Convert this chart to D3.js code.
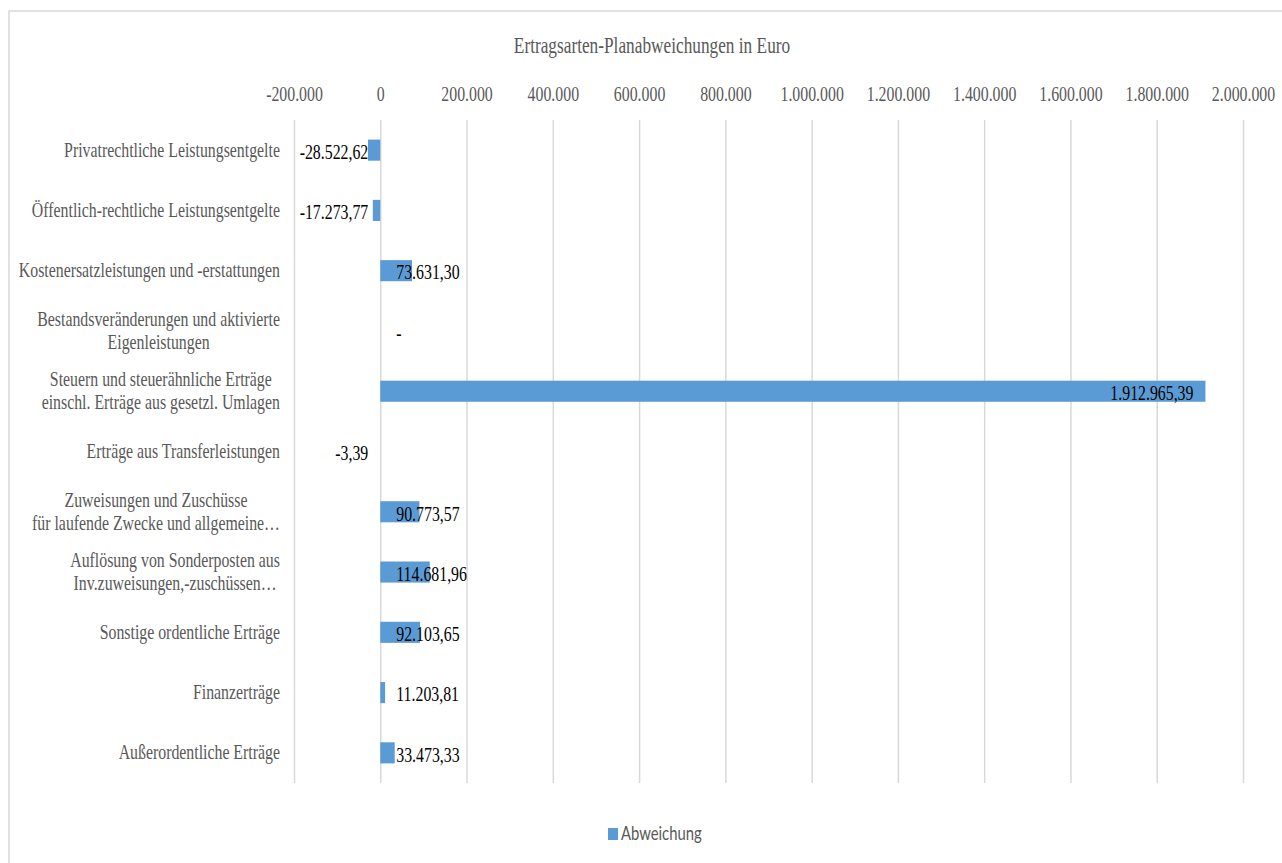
<!DOCTYPE html>
<html>
<head>
<meta charset="utf-8">
<script src="https://cdn.jsdelivr.net/npm/d3@7"></script>
<style>
  body { margin: 0; background: #fff; }
  svg { display: block; }
</style>
</head>
<body>
<svg id="chart" width="1282" height="863"></svg>
<script>
// Ertragsarten-Planabweichungen: horizontal bars, axis on top
const title = 'Ertragsarten-Planabweichungen in Euro';
const seriesName = 'Abweichung';
const categories = [
  'Privatrechtliche Leistungsentgelte',
  'Öffentlich-rechtliche Leistungsentgelte',
  'Kostenersatzleistungen und -erstattungen',
  'Bestandsveränderungen und aktivierte\nEigenleistungen',
  'Steuern und steuerähnliche Erträge\neinschl. Erträge aus gesetzl. Umlagen',
  'Erträge aus Transferleistungen',
  'Zuweisungen und Zuschüsse\nfür laufende Zwecke und allgemeine…',
  'Auflösung von Sonderposten aus\nInv.zuweisungen,-zuschüssen…',
  'Sonstige ordentliche Erträge',
  'Finanzerträge',
  'Außerordentliche Erträge'
];
const values = [-28522.62, -17273.77, 73631.30, 0, 1912965.39, -3.39, 90773.57, 114681.96, 92103.65, 11203.81, 33473.33];
const tickValues = [-200000, 0, 200000, 400000, 600000, 800000, 1000000, 1200000, 1400000, 1600000, 1800000, 2000000];

const SERIF = '"Liberation Serif", "Times New Roman", serif';
const GRAY = '#595959', GRID = '#d9d9d9', BLUE = '#5b9bd5';
const SQ = 0.72; // the reference text is horizontally condensed

const svg = d3.select('#chart');
const de = d3.formatLocale({decimal: ',', thousands: '.', grouping: [3], currency: ['', ' €'], minus: '-'});
const fmtTick = de.format(',.0f'), fmtVal = de.format(',.2f');

// condense a text horizontally around its anchor point px
function condense(sel, px, k) {
  sel.each(function (d, i) {
    const ax = typeof px === 'function' ? px(d, i) : px;
    this.setAttribute('x', 0);
    this.setAttribute('transform', `translate(${ax},0) scale(${k},1)`);
  });
}

// outer frame
svg.append('rect').attr('x', 9).attr('y', 11).attr('width', 1290).attr('height', 870)
  .attr('fill', 'none').attr('stroke', GRID).attr('stroke-width', 1.5);

const plotTop = 120, plotBottom = 783;
const x = d3.scaleLinear().domain([-200000, 2000000]).range([294, 1243]);
const y = d3.scaleBand().domain(categories).range([plotTop, plotBottom]).paddingInner(0.65).paddingOuter(0.325);

// title
svg.append('text').attr('y', 53).attr('text-anchor', 'middle')
  .attr('font-family', SERIF).attr('font-size', 24).attr('fill', GRAY).text(title)
  .call(condense, 652, SQ);

// axis + gridlines
const ax = svg.append('g').attr('transform', `translate(0,${plotTop})`)
  .call(d3.axisTop(x).tickValues(tickValues).tickSize(-(plotBottom - plotTop)).tickPadding(19).tickFormat(fmtTick));
ax.select('.domain').remove();
ax.selectAll('.tick line').attr('stroke', GRID).attr('stroke-width', 1.5);
ax.selectAll('.tick text').attr('font-family', SERIF).attr('font-size', 22).attr('fill', GRAY)
  .call(condense, 0, SQ);

// category labels (multi-line ones are centred as a block that ends at x=280)
categories.forEach(c => {
  const lines = c.split('\n');
  const cy = y(c) + y.bandwidth() / 2;
  const lh = 23;
  const t = svg.append('g').selectAll('text').data(lines).join('text')
    .attr('y', (d, i) => cy + (i - (lines.length - 1) / 2) * lh)
    .attr('dy', '0.3em')
    .attr('text-anchor', 'middle')
    .attr('font-family', SERIF).attr('font-size', 22).attr('fill', GRAY)
    .text(d => d);
  const maxW = d3.max(t.nodes(), n => n.getComputedTextLength()) * SQ;
  t.call(condense, 280 - maxW / 2, SQ);
});

// bars
svg.append('g').selectAll('rect').data(values).join('rect')
  .attr('x', d => x(Math.min(0, d)))
  .attr('y', (d, i) => y(categories[i]))
  .attr('width', d => Math.abs(x(d) - x(0)))
  .attr('height', y.bandwidth())
  .attr('fill', BLUE);

// data labels
const inside = d => x(d) - x(0) > 300;
svg.append('g').selectAll('text').data(values).join('text')
  .attr('text-anchor', d => (d < 0 || inside(d)) ? 'end' : 'start')
  .attr('y', (d, i) => y(categories[i]) + y.bandwidth() / 2)
  .attr('dy', '0.4em')
  .attr('font-family', SERIF).attr('font-size', 22).attr('fill', '#000')
  .text(d => d === 0 ? '-' : fmtVal(d))
  .call(condense, d => inside(d) ? x(d) - 12 : (d < 0 ? x(0) - 12 : x(0) + 16), SQ);

// legend
svg.append('rect').attr('x', 608).attr('y', 828).attr('width', 10).attr('height', 12).attr('fill', BLUE);
svg.append('text').attr('y', 840)
  .attr('font-family', 'Lato, "Open Sans", sans-serif').attr('font-size', 19).attr('fill', GRAY)
  .text(seriesName).call(condense, 621, 0.78);
</script>
</body>
</html>
